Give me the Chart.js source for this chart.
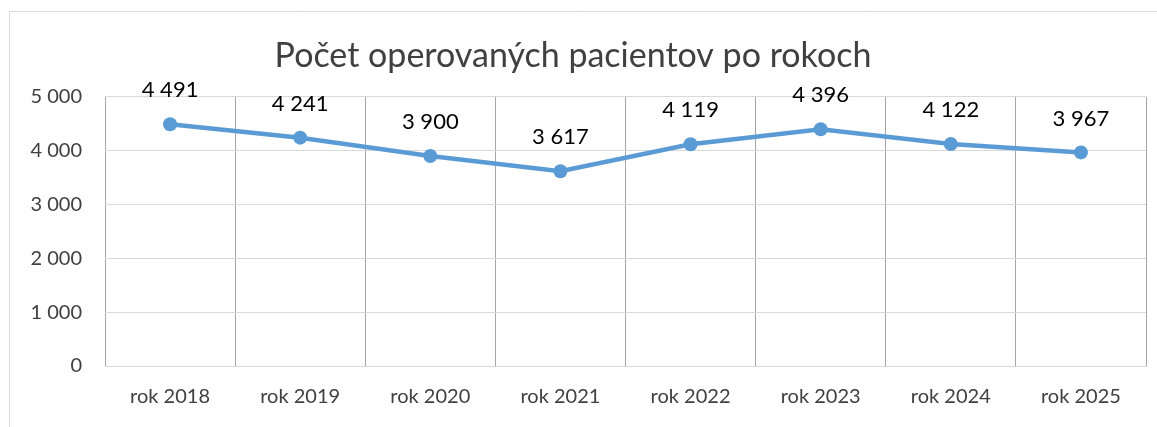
<!DOCTYPE html>
<html>
<head>
<meta charset="utf-8">
<script src="https://cdn.jsdelivr.net/npm/chart.js@4"></script>
<style>
  html, body { margin: 0; padding: 0; background: #ffffff; }
  #wrap { position: relative; width: 1157px; height: 427px; }
  canvas { display: block; }
</style>
</head>
<body>
<div id="wrap"><canvas id="c" width="1157" height="427"></canvas></div>
<script>
const TITLE = "Počet operovaných pacientov po rokoch";
const categories = ["rok 2018", "rok 2019", "rok 2020", "rok 2021", "rok 2022", "rok 2023", "rok 2024", "rok 2025"];
const patients = [4491, 4241, 3900, 3617, 4119, 4396, 4122, 3967];
const yTicks = [0, 1000, 2000, 3000, 4000, 5000];

const fmt = v => String(v).replace(/\B(?=(\d{3})+(?!\d))/g, " ");
const FONT = "Lato, 'Open Sans', sans-serif";

const frame = {
  id: "frame",
  beforeDraw(chart) {
    const ctx = chart.ctx;
    ctx.save();
    ctx.strokeStyle = "#d9d9d9";
    ctx.lineWidth = 1;
    ctx.beginPath();
    ctx.moveTo(9.5, 440);
    ctx.lineTo(9.5, 11.5);
    ctx.lineTo(1160, 11.5);
    ctx.stroke();
    ctx.restore();
  }
};

const labels = {
  id: "valueLabels",
  afterDatasetsDraw(chart) {
    const ctx = chart.ctx;
    const meta = chart.getDatasetMeta(0);
    ctx.save();
    ctx.font = "22px " + FONT;
    ctx.fillStyle = "#000000";
    ctx.textAlign = "center";
    ctx.textBaseline = "middle";
    meta.data.forEach((pt, i) => {
      ctx.fillText(fmt(chart.data.datasets[0].data[i]), pt.x, pt.y - 34);
    });
    ctx.restore();
  }
};

new Chart(document.getElementById("c"), {
  type: "line",
  data: {
    labels: categories,
    datasets: [{
      data: patients,
      borderColor: "#5b9bd5",
      backgroundColor: "#5b9bd5",
      borderWidth: 4.5,
      pointRadius: 7,
      pointHoverRadius: 7,
      pointBorderWidth: 0,
      tension: 0,
      fill: false
    }]
  },
  options: {
    responsive: false,
    animation: false,
    devicePixelRatio: 1,
    layout: { padding: { left: 0, right: 11, top: 0, bottom: 0 } },
    plugins: {
      legend: { display: false },
      tooltip: { enabled: false },
      title: {
        display: true,
        text: TITLE,
        color: "#404040",
        font: { family: FONT, size: 34, weight: "normal", lineHeight: 1.2 },
        padding: { top: 36, bottom: 20 }
      }
    },
    scales: {
      x: {
        offset: true,
        grid: { offset: true, color: "#a6a6a6", lineWidth: 1, drawTicks: false },
        border: { color: "#d9d9d9", width: 1 },
        ticks: { color: "#404040", font: { family: FONT, size: 20 }, padding: 19 },
        afterFit(s) { s.height = 61; }
      },
      y: {
        min: 0,
        max: 5000,
        afterBuildTicks(s) { s.ticks = yTicks.map(v => ({ value: v })); },
        grid: { color: "#d9d9d9", lineWidth: 1, drawTicks: false },
        border: { display: false },
        ticks: { color: "#404040", font: { family: FONT, size: 20 }, padding: 23, callback: v => fmt(v) },
        afterFit(s) { s.width = 105; }
      }
    }
  },
  plugins: [frame, labels]
});
</script>
</body>
</html>
